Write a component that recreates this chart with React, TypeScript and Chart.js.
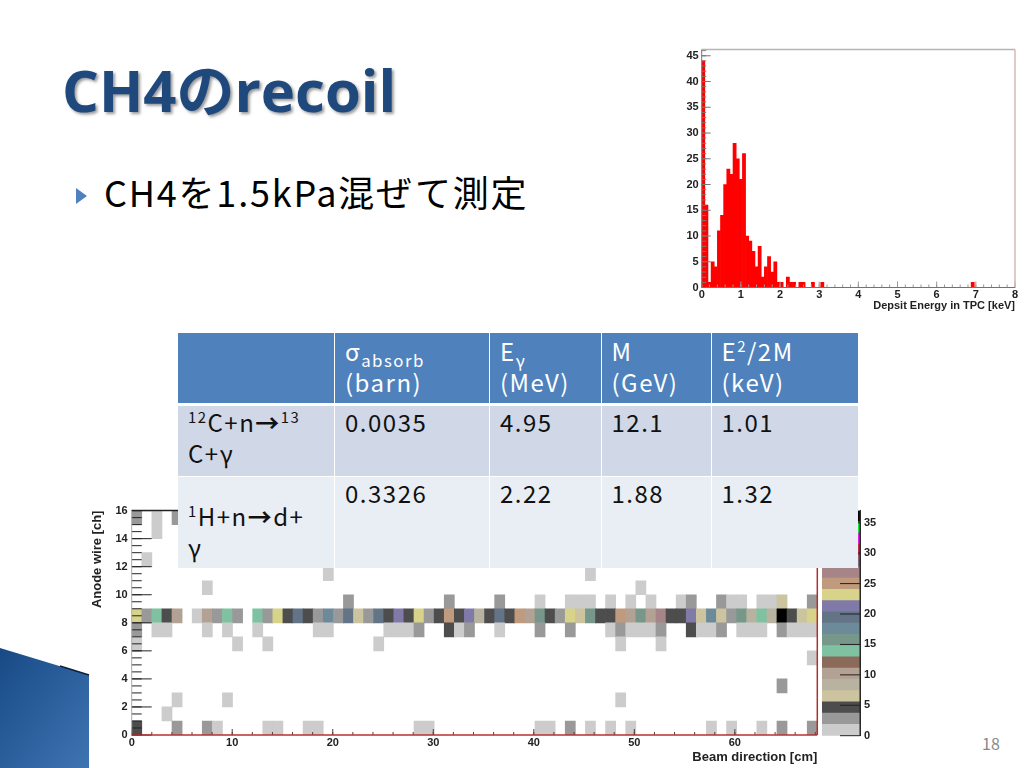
import React, { useEffect, useRef } from "react";
import { Chart, registerables } from "chart.js";
Chart.register(...registerables);

// ---- histogram: Depsit Energy in TPC
const histBinWidth = 0.08;
const histCounts = [
  44, 16, 1, 5, 4, 11, 14, 20, 23, 22, 28, 25, 21, 26, 10, 9, 7, 4, 8, 2,
  4, 6, 3, 5, 1, 1, 0, 2, 1, 1, 0, 1, 1, 0, 0, 1, 0, 0, 1, 0,
  0, 0, 0, 0, 0, 0, 0, 0, 0, 0, 0, 0, 0, 0, 0, 0, 0, 0, 0, 0,
  0, 0, 0, 0, 0, 0, 0, 0, 0, 0, 0, 0, 0, 0, 0, 0, 0, 0, 0, 0,
  0, 0, 0, 0, 0, 0, 1, 0, 0, 0, 0, 0, 0, 0, 0, 0, 0, 0, 0, 0,
];

// ---- heat map: [column, value] for each anode wire row
const cellSpan = 68.2 / 68;
const row0 = [[0,5],[4,3],[7,3],[8,1],[13,1],[14,1],[17,1],[18,1],[28,1],[29,1],[40,1],[41,1],[43,3],[45,1],[47,1],[49,1],[57,1],[59,1],[62,1],[64,3],[67,3]];
const row1 = [[3,1]];
const row2 = [[4,1],[9,1],[48,1]];
const row3 = [[64,3]];
const row4: number[][] = [];
const row5 = [[67,1]];
const row6 = [[0,1],[10,1],[13,1],[24,1],[48,1],[52,1]];
const row7 = [[0,3],[2,1],[3,1],[7,1],[9,1],[12,1],[18,1],[19,1],[25,1],[26,1],[27,1],[28,3],[31,5],[32,1],[33,3],[36,1],[40,3],[43,3],[47,1],[48,3],[49,1],[50,1],[51,1],[52,3],[55,5],[56,1],[57,1],[58,3],[60,1],[61,1],[62,1],[64,3],[65,1],[66,1],[67,1]];
const row8 = [[0,23],[1,3],[2,14],[3,5],[4,10],[6,1],[7,10],[8,3],[9,14],[10,3],[12,14],[13,3],[14,23],[15,5],[16,19],[17,5],[18,3],[19,17],[20,3],[21,19],[22,7],[23,3],[24,19],[25,5],[26,21],[27,5],[28,23],[29,3],[30,5],[31,25],[32,5],[33,21],[34,8],[35,5],[36,19],[37,5],[38,25],[39,10],[40,15],[41,5],[42,3],[43,23],[44,7],[45,15],[46,5],[47,5],[48,25],[49,10],[50,15],[51,10],[52,27],[53,5],[54,5],[55,21],[56,7],[57,17],[58,7],[59,3],[60,15],[61,8],[62,14],[63,8],[64,36],[65,5],[66,7],[67,23]];
const row9 = [[21,3],[31,3],[36,3],[40,1],[43,1],[44,1],[45,1],[47,1],[49,1],[51,1],[54,1],[55,3],[58,3],[59,1],[60,1],[62,1],[63,1],[64,7],[67,3]];
const row10 = [[7,1],[50,1]];
const row11 = [[19,1],[45,1]];
const row12 = [[1,1]];
const row13: number[][] = [];
const row14 = [[2,1]];
const row15 = [[0,3],[2,1],[4,3]];
const heatRows = [row0,row1,row2,row3,row4,row5,row6,row7,row8,row9,row10,row11,row12,row13,row14,row15];

// ---- colour scale
const bandStep = 1.85;
const bandColors = [
  "#cccccc","#999999","#4d4d4d","#ccc49f","#b8b3a0","#b3a294","#8b6a5a","#7ec2a2","#76978a","#6d8a9a",
  "#637486","#807aa8","#d8d38a","#c09a7c","#a68488","#7a6a80","#c0304a","#e020e0","#20e040","#000000",
];
const colorOf = (v: number) => bandColors[Math.min(bandColors.length - 1, Math.floor(v / bandStep))];

// ---- tick marks
const histMajorY = [0,5,10,15,20,25,30,35,40,45];
const histMinorY = Array.from({ length: 47 }, (_, i) => i);
const histMajorX = [0,1,2,3,4,5,6,7,8];
const histMinorX = Array.from({ length: 41 }, (_, i) => i * 0.2);
const heatMajorY = [0,2,4,6,8,10,12,14,16];
const heatMinorY = Array.from({ length: 33 }, (_, i) => i * 0.5);
const heatMajorX = [0,10,20,30,40,50,60];
const heatMinorX = Array.from({ length: 35 }, (_, i) => i * 2);
const barMajor = [0,5,10,15,20,25,30,35];

// ---- slide text
const slideTitle = "CH4のrecoil";
const slideBullet = "CH4を1.5kPa混ぜて測定";
const pageNumber = "18";

const LABEL = "'Liberation Sans', Arial, sans-serif";
const TEXT = "'Noto Sans CJK JP', 'Open Sans', sans-serif";
const tickFont = { family: LABEL, size: 11, weight: "bold" as const };
const heatTitleFont = { family: LABEL, size: 13, weight: "bold" as const };

type Frame = { left?: string; top?: string; right?: string; bottom?: string };
function rootAxes(id: string, o: {
  majorX: number[]; minorX: number[]; majorY: number[]; minorY: number[];
  lenMajorX: number; lenMinorX: number; lenMajorY: number; lenMinorY: number;
  tickX: string; tickY: string; frame: Frame; bottomWidth: number;
}) {
  return {
    id,
    afterDatasetsDraw(chart: any) {
      const { ctx, chartArea: a, scales } = chart;
      const seg = (c: string, w: number, x1: number, y1: number, x2: number, y2: number) => {
        ctx.strokeStyle = c; ctx.lineWidth = w; ctx.beginPath(); ctx.moveTo(x1, y1); ctx.lineTo(x2, y2); ctx.stroke();
      };
      ctx.save();
      o.minorX.forEach((v) => { const x = scales.x.getPixelForValue(v); seg(o.tickX, 1, x, a.bottom, x, a.bottom - o.lenMinorX); });
      o.majorX.forEach((v) => { const x = scales.x.getPixelForValue(v); seg(o.tickX, 1, x, a.bottom, x, a.bottom - o.lenMajorX); });
      o.minorY.forEach((v) => { const y = scales.y.getPixelForValue(v); seg(o.tickY, 1, a.left, y, a.left + o.lenMinorY, y); });
      o.majorY.forEach((v) => { const y = scales.y.getPixelForValue(v); seg(o.tickY, 1, a.left, y, a.left + o.lenMajorY, y); });
      if (o.frame.top) seg(o.frame.top, 1.5, a.left, a.top, a.right, a.top);
      if (o.frame.left) seg(o.frame.left, 1, a.left, a.top, a.left, a.bottom);
      if (o.frame.right) seg(o.frame.right, 1.5, a.right, a.top, a.right, a.bottom);
      if (o.frame.bottom) seg(o.frame.bottom, o.bottomWidth, a.left, a.bottom, a.right, a.bottom);
      ctx.restore();
    },
  };
}

function useChart(make: (c: HTMLCanvasElement) => Chart) {
  const ref = useRef<HTMLCanvasElement>(null);
  useEffect(() => {
    const ch = make(ref.current!);
    return () => ch.destroy();
  }, []);
  return ref;
}

const base = {
  responsive: false,
  animation: false as const,
  devicePixelRatio: 1,
  plugins: { legend: { display: false }, tooltip: { enabled: false }, title: { display: false } },
};
const noGrid = { display: false, drawTicks: false };

function Hist() {
  const ref = useChart((c) => new Chart(c, {
    type: "bar",
    data: { datasets: [{
      data: histCounts.map((y, i) => ({ x: (i + 0.5) * histBinWidth, y })),
      backgroundColor: "#ff0000", borderWidth: 0, barPercentage: 1, categoryPercentage: 1,
    }] } as any,
    options: {
      ...base,
      layout: { padding: { top: 8, right: 9, left: 0, bottom: 0 } },
      scales: {
        x: {
          type: "linear", offset: false, min: 0, max: 8,
          grid: noGrid, border: { display: false },
          ticks: { stepSize: 1, font: tickFont, color: "#222", padding: 1, maxRotation: 0 },
          title: { display: true, text: "Depsit Energy in TPC [keV]", align: "end", font: tickFont, color: "#222", padding: { top: 0, bottom: 7 } },
          afterFit: (s: any) => { s.height = 32.5; },
        },
        y: {
          min: 0, max: 46.2,
          grid: noGrid, border: { display: false },
          ticks: { stepSize: 5, font: tickFont, color: "#222", padding: 3, includeBounds: false } as any,
          afterFit: (s: any) => { s.width = 21.7; },
        },
      },
    } as any,
    plugins: [rootAxes("histAxes", {
      majorX: histMajorX, minorX: histMinorX, majorY: histMajorY, minorY: histMinorY,
      lenMajorX: 6, lenMinorX: 3, lenMajorY: 9, lenMinorY: 4.5,
      tickX: "#999", tickY: "#777", bottomWidth: 1.2,
      frame: { top: "#b5b5b5", left: "#777", right: "#d8b8b8", bottom: "#e84040" },
    })],
  }));
  return <canvas ref={ref} width={344} height={280} style={{ position: "absolute", left: 680, top: 40 }} />;
}

function Heat() {
  const ref = useChart((c) => new Chart(c, {
    type: "bar",
    data: { datasets: heatRows.map((cells, r) => ({
      data: cells.map(([col, v]) => ({ x: (col + 0.5) * cellSpan, y: [r, r + 1] })),
      backgroundColor: cells.map(([, v]) => colorOf(v)),
      borderWidth: 0, barPercentage: 1, categoryPercentage: 1, grouped: false,
    })) } as any,
    options: {
      ...base,
      layout: { padding: { top: 10, right: 12.7, left: 0, bottom: 0 } },
      scales: {
        x: {
          type: "linear", offset: false, min: 0, max: 68.2,
          grid: noGrid, border: { display: false },
          ticks: { stepSize: 10, font: tickFont, color: "#222", padding: 1, maxRotation: 0, includeBounds: false } as any,
          title: { display: true, text: "Beam direction [cm]", align: "end", font: heatTitleFont, color: "#222", padding: { top: 0, bottom: 3 } },
          afterFit: (s: any) => { s.height = 33; },
        },
        y: {
          min: 0, max: 16,
          grid: noGrid, border: { display: false },
          ticks: { stepSize: 2, font: tickFont, color: "#222", padding: 4 },
          title: { display: true, text: "Anode wire [ch]", align: "end", font: heatTitleFont, color: "#222", padding: { top: 2, bottom: 0 } },
          afterFit: (s: any) => { s.width = 43.7; },
        },
      },
    } as any,
    plugins: [rootAxes("heatAxes", {
      majorX: heatMajorX, minorX: heatMinorX, majorY: heatMajorY, minorY: heatMinorY,
      lenMajorX: 6, lenMinorX: 3, lenMajorY: 20, lenMinorY: 10,
      tickX: "#444", tickY: "#222", bottomWidth: 1.6,
      frame: { top: "#222", left: "#aaa", right: "#b03030", bottom: "#b83030" },
    })],
  }));
  return <canvas ref={ref} width={742} height={268} style={{ position: "absolute", left: 88, top: 500 }} />;
}

function ColorBar() {
  const ref = useChart((c) => new Chart(c, {
    type: "bar",
    data: {
      labels: ["z"],
      datasets: bandColors.map((color, i) => ({
        data: [[i * bandStep, (i + 1) * bandStep]],
        backgroundColor: color, borderWidth: 0, barPercentage: 1, categoryPercentage: 1, grouped: false,
      })),
    } as any,
    options: {
      ...base,
      layout: { padding: { top: 8, left: 7, right: 0, bottom: 32.3 } },
      scales: {
        x: { display: false },
        y: {
          position: "right", min: 0, max: 37,
          grid: noGrid, border: { display: true, color: "#333", width: 1 },
          ticks: { stepSize: 5, font: tickFont, color: "#222", padding: 4, includeBounds: false } as any,
          afterFit: (s: any) => { s.width = 35; },
        },
      },
    } as any,
    plugins: [{
      id: "barTicks",
      afterDatasetsDraw(chart: any) {
        const { ctx, chartArea: a, scales } = chart;
        ctx.save();
        ctx.strokeStyle = "#222"; ctx.lineWidth = 1;
        barMajor.forEach((v) => {
          const y = scales.y.getPixelForValue(v);
          ctx.beginPath(); ctx.moveTo(a.right - 20, y); ctx.lineTo(a.right, y); ctx.stroke();
        });
        ctx.beginPath(); ctx.moveTo(a.right, a.top); ctx.lineTo(a.right, a.bottom); ctx.stroke();
        ctx.restore();
      },
    }],
  }));
  return <canvas ref={ref} width={80} height={268} style={{ position: "absolute", left: 815, top: 500 }} />;
}

// ---- table
const sup = (s: string) => <sup style={{ fontSize: "62%", lineHeight: 0 }}>{s}</sup>;
const sub = (s: string) => <sub style={{ fontSize: "70%", lineHeight: 0 }}>{s}</sub>;
const colEdges = [178, 334, 489, 600.5, 710.5, 858];
const rowEdges = [[333, 403], [406, 475.5], [477, 568]];
const rowFills = ["#4f81bd", "#d0d8e8", "#e9edf4"];
const arrow = <b style={{ fontWeight: 700 }}>→</b>;
const tableCells: React.ReactNode[][] = [
  ["", <>σ{sub("absorb")}<br />(barn)</>, <>E{sub("γ")}<br />(MeV)</>, <>M<br />(GeV)</>, <>E{sup("2")}/2M<br />(keV)</>],
  [<>{sup("12")}C+n{arrow}{sup("13")}<br />C+γ</>, "0.0035", "4.95", "12.1", "1.01"],
  [<>{sup("1")}H+n{arrow}d+<br />γ</>, "0.3326", "2.22", "1.88", "1.32"],
];

function Table() {
  return (
    <>
      <div style={{ position: "absolute", left: colEdges[0], top: rowEdges[0][0], width: colEdges[5] - colEdges[0], height: rowEdges[2][1] - rowEdges[0][0], background: "#fff" }} />
      {tableCells.map((row, r) => row.map((cell, c) => (
        <div key={r + "-" + c} style={{
          position: "absolute",
          left: colEdges[c] + (c ? 1 : 0),
          top: rowEdges[r][0],
          width: colEdges[c + 1] - colEdges[c] - (c ? 1 : 0),
          height: rowEdges[r][1] - rowEdges[r][0],
          background: rowFills[r],
          boxSizing: "border-box",
          padding: `${r === 2 && c === 0 ? 23 : r === 0 ? 2 : 0}px 0 0 10px`,
          color: r === 0 ? "#fff" : "#111",
          font: `24px/31px ${TEXT}`,
          letterSpacing: "1.5px",
          whiteSpace: "nowrap",
        }}>{cell}</div>
      )))}
    </>
  );
}

export default function App() {
  return (
    <div style={{ position: "fixed", left: 0, top: 0, width: 1024, height: 768, background: "#fff", overflow: "hidden" }}>
      <svg width={90} height={130} style={{ position: "absolute", left: 0, top: 640 }}>
        <defs>
          <linearGradient id="swoosh" x1="0" y1="0" x2="1" y2="1">
            <stop offset="0" stopColor="#174a85" />
            <stop offset="1" stopColor="#3f74b3" />
          </linearGradient>
        </defs>
        <polygon points="0,8 89,35 89,128 0,128" fill="url(#swoosh)" />
        <polyline points="60,26 89,35" fill="none" stroke="#0f1f38" strokeWidth={1.5} />
      </svg>

      <div style={{
        position: "absolute", left: 62, top: 50, font: `bold 58px/80px 'Open Sans','Noto Sans CJK JP',sans-serif`,
        color: "#1f497d", textShadow: "2px 2px 3px rgba(70,70,70,.55)", whiteSpace: "nowrap",
      }}>{slideTitle}</div>

      <svg width={16} height={20} style={{ position: "absolute", left: 76, top: 187 }}>
        <polygon points="0,1 11,9 0,17" fill="#4f81bd" />
      </svg>
      <div style={{
        position: "absolute", left: 104, top: 166, font: `36px/50px ${TEXT}`, letterSpacing: "1.8px", color: "#000", whiteSpace: "nowrap",
      }}>{slideBullet}</div>

      <Hist />
      <Heat />
      <ColorBar />
      <Table />

      <div style={{ position: "absolute", left: 982, top: 733, font: `16px/20px ${TEXT}`, color: "#898989" }}>{pageNumber}</div>
    </div>
  );
}
